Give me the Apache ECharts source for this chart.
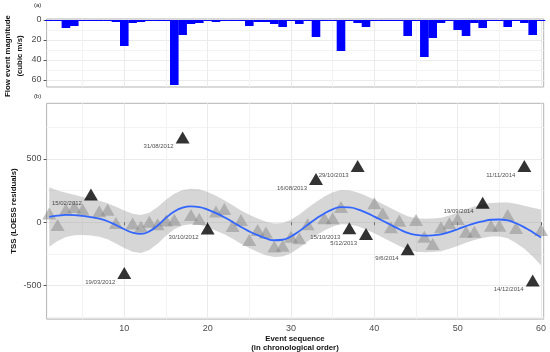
<!DOCTYPE html>
<html><head><meta charset="utf-8">
<script src="https://cdn.jsdelivr.net/npm/echarts@6/dist/echarts.min.js"></script>
<style>html,body{margin:0;padding:0;background:#fff}#c{width:550px;height:352px}</style>
</head><body><div id="c"></div>
<script>
// ---------- data ----------
const eventSeq = [1,2,3,4,5,6,7,8,9,10,11,12,13,14,15,16,17,18,19,20,21,22,23,24,25,26,27,28,29,30,31,32,33,34,35,36,37,38,39,40,41,42,43,44,45,46,47,48,49,50,51,52,53,54,55,56,57,58,59,60];
const flowMagnitude = [1,1,8,6,1,1,1,1,2,26,3,2,1,1,1,65,15,4,3,1,2,1,1,1,6,2,2,4,7,1,4,1,17,1,1,31,1,3,7,1,1,1,1,16,1,37,18,3,1,10,16,3,8,1,1,7,1,3,15,1];
const tssResiduals = [70,-21,100,120,100,220,88,98,-5,-400,-10,-35,5,-15,15,20,670,58,25,-50,85,105,-30,18,-140,-61,-80,-192,-185,-114,-127,-15,342,31,31,120,-48,445,-92,150,71,-40,12,-214,18,-114,-172,-40,-8,25,-74,-74,155,-28,-28,58,-45,445,-460,-61];
const highlightSeq = [6,10,17,20,33,37,38,39,44,53,58,59];
const highlightDates = ['15/02/2012','19/03/2012','31/08/2012','30/10/2012','16/08/2013','15/10/2013','29/10/2013','5/12/2013','9/6/2014','19/09/2014','11/11/2014','14/12/2014'];
const loessFit = [42,52,58,57,50,40,28,8,-22,-55,-82,-92,-72,-25,35,85,115,125,120,100,72,40,2,-38,-72,-102,-128,-142,-138,-112,-70,-20,28,70,102,120,118,102,76,45,12,-22,-55,-84,-100,-105,-103,-96,-78,-55,-30,-8,8,20,22,15,-8,-40,-78,-120];
const bandLower = [-193,-148,-117,-103,-100,-105,-114,-134,-167,-203,-232,-242,-220,-170,-107,-55,-25,-15,-20,-40,-66,-95,-131,-170,-204,-234,-260,-274,-270,-244,-202,-152,-105,-64,-33,-15,-17,-32,-57,-87,-120,-154,-187,-216,-232,-237,-235,-228,-210,-187,-162,-140,-124,-112,-113,-127,-163,-210,-270,-340];
const bandUpper = [277,252,233,217,200,185,170,150,123,93,68,58,76,120,177,225,255,265,260,240,210,175,135,94,60,30,4,-10,-6,20,62,112,161,204,237,255,253,236,209,177,144,110,77,48,32,27,29,36,54,77,102,124,140,152,157,157,147,130,114,100];
const xTicks = [10,20,30,40,50,60];
const flowTicks = [0,20,40,60];
const tssTicks = [-500,0,500];

// ---------- chart ----------
const FONT = '"Liberation Sans", Arial, Helvetica, sans-serif';
const chart = echarts.init(document.getElementById('c'), null, {renderer:'canvas'});

function xAxis(gi, show) {
  return {
    type:'value', gridIndex:gi, min:0.68, max:60.32, splitNumber:5,
    axisLine:{show:false},
    axisTick:{show:show, length:3, lineStyle:{color:'#555'}, customValues:xTicks},
    axisLabel:{show:show, customValues:xTicks, fontSize:9, color:'#4d4d4d', margin:5, fontFamily:FONT},
    splitLine:{show:true, lineStyle:{color:'#ebebeb', width:1}},
    minorTick:{show:false, splitNumber:2},
    minorSplitLine:{show:true, lineStyle:{color:'#f3f3f3', width:1}}
  };
}

const greyPts = [], blackPts = [];
eventSeq.forEach((x,i) => {
  const k = highlightSeq.indexOf(x);
  if (k >= 0) blackPts.push({value:[x, tssResiduals[i]], name:highlightDates[k]});
  else greyPts.push([x, tssResiduals[i]]);
});

const option = {
  animation:false,
  backgroundColor:'#fff',
  grid:[
    {left:46.6, right:6.3, top:19, height:68, show:true, borderColor:'#b3b3b3', borderWidth:1, backgroundColor:'#fff'},
    {left:46.6, right:6.3, top:103.3, height:215.8, show:true, borderColor:'#b3b3b3', borderWidth:1, backgroundColor:'#fff'}
  ],
  xAxis:[xAxis(0,false), xAxis(1,true)],
  yAxis:[
    {type:'value', gridIndex:0, inverse:true, min:-1, max:67, splitNumber:3,
     axisLine:{show:false},
     axisTick:{show:true, length:3, lineStyle:{color:'#555'}, customValues:flowTicks},
     axisLabel:{customValues:flowTicks, fontSize:9, color:'#4d4d4d', margin:5, fontFamily:FONT},
     splitLine:{show:true, lineStyle:{color:'#ebebeb'}},
     minorTick:{show:false, splitNumber:2},
     minorSplitLine:{show:true, lineStyle:{color:'#f3f3f3'}}},
    {type:'value', gridIndex:1, min:-765, max:940, splitNumber:3,
     axisLine:{show:false},
     axisTick:{show:true, length:3, lineStyle:{color:'#555'}, customValues:tssTicks},
     axisLabel:{customValues:tssTicks, fontSize:9, color:'#4d4d4d', margin:5, fontFamily:FONT},
     splitLine:{show:true, lineStyle:{color:'#ebebeb'}},
     minorTick:{show:false, splitNumber:2},
     minorSplitLine:{show:true, lineStyle:{color:'#f3f3f3'}}}
  ],
  series:[
    {type:'bar', xAxisIndex:0, yAxisIndex:0, barWidth:8.6,
     data:eventSeq.map((x,i)=>[x, flowMagnitude[i]]),
     itemStyle:{color:'#0000ff'}, silent:true},
    {type:'scatter', xAxisIndex:1, yAxisIndex:1, z:2, symbol:'triangle', symbolSize:[14,12],
     data:greyPts, itemStyle:{color:'rgba(110,110,110,0.55)'}, silent:true},
    {type:'custom', xAxisIndex:1, yAxisIndex:1, z:3, silent:true, clip:true,
     data:eventSeq.map((x,i)=>[x, bandLower[i], bandUpper[i]]),
     encode:{x:0, y:[1,2]},
     renderItem:function(params, api){
       if (params.dataIndex !== 0) return;
       const pts = [];
       for (let i=0;i<eventSeq.length;i++) pts.push(api.coord([eventSeq[i], bandUpper[i]]));
       for (let i=eventSeq.length-1;i>=0;i--) pts.push(api.coord([eventSeq[i], bandLower[i]]));
       return {type:'polygon', shape:{points:pts}, style:{fill:'rgba(153,153,153,0.4)'}};
     }},
    {type:'line', xAxisIndex:1, yAxisIndex:1, z:4, smooth:true, symbol:'none',
     data:eventSeq.map((x,i)=>[x, loessFit[i]]), lineStyle:{color:'#3366ff', width:1.8}, silent:true},
    {type:'scatter', xAxisIndex:1, yAxisIndex:1, z:5, symbol:'triangle', symbolSize:[14,12],
     data:blackPts, itemStyle:{color:'#000'}, silent:true,
     label:{show:true, formatter:'{b}', position:'inside', align:'right', verticalAlign:'middle',
            offset:[-9,9], fontSize:6, color:'#222', fontFamily:FONT}}
  ],
  graphic:[
    {type:'text', x:34, y:5, style:{text:'(a)', fontSize:6, fill:'#222', fontFamily:FONT, align:'left', verticalAlign:'middle'}},
    {type:'text', x:34, y:96, style:{text:'(b)', fontSize:6, fill:'#222', fontFamily:FONT, align:'left', verticalAlign:'middle'}},
    {type:'text', x:8, y:56, rotation:Math.PI/2, style:{text:'Flow event magnitude', fontSize:7.8, fontWeight:'bold', fill:'#111', fontFamily:FONT, align:'center', verticalAlign:'middle'}},
    {type:'text', x:19.5, y:56, rotation:Math.PI/2, style:{text:'(cubic m/s)', fontSize:7.8, fontWeight:'bold', fill:'#111', fontFamily:FONT, align:'center', verticalAlign:'middle'}},
    {type:'text', x:14, y:211, rotation:Math.PI/2, style:{text:'TSS (LOESS residuals)', fontSize:7.8, fontWeight:'bold', fill:'#111', fontFamily:FONT, align:'center', verticalAlign:'middle'}},
    {type:'text', x:295, y:339, style:{text:'Event sequence', fontSize:7.8, fontWeight:'bold', fill:'#111', fontFamily:FONT, align:'center', verticalAlign:'middle'}},
    {type:'text', x:295, y:347.5, style:{text:'(in chronological order)', fontSize:7.8, fontWeight:'bold', fill:'#111', fontFamily:FONT, align:'center', verticalAlign:'middle'}}
  ]
};
chart.setOption(option);
</script></body></html>
